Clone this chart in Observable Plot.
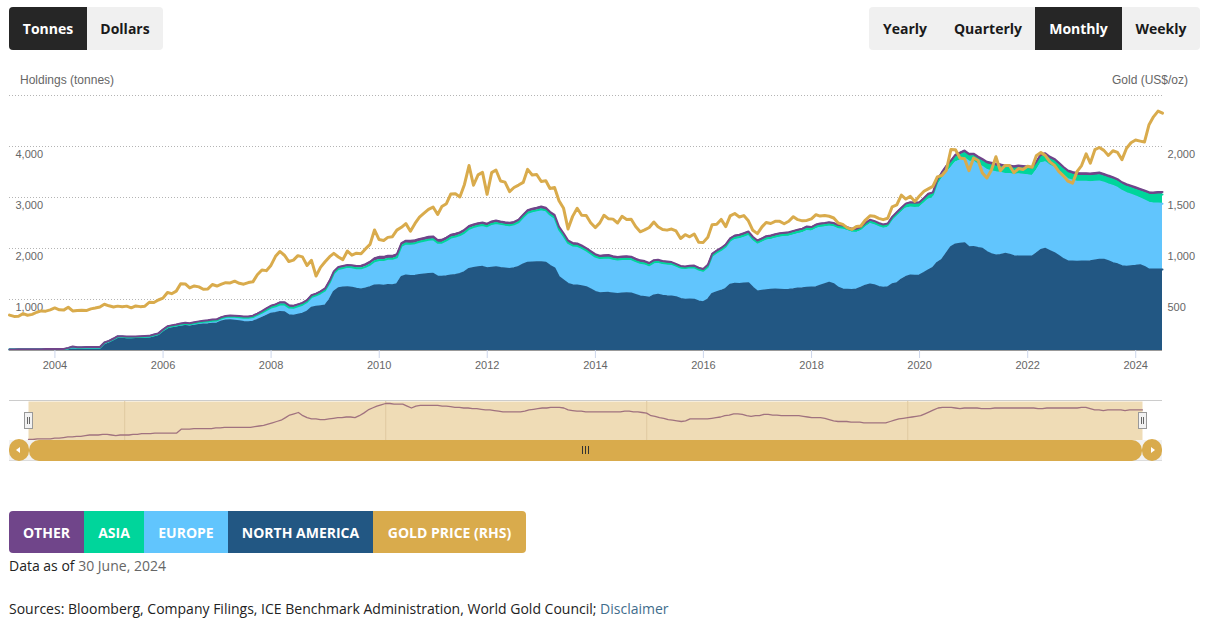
<!DOCTYPE html>
<html>
<head>
<meta charset="utf-8">
<script src="https://cdn.jsdelivr.net/npm/d3@7"></script>
<script src="https://cdn.jsdelivr.net/npm/@observablehq/plot@0.6"></script>
<style>
  body { margin: 0; background: #fff; }
  #page { position: relative; width: 1209px; height: 622px; overflow: hidden; font-family: "Open Sans", sans-serif; }
  .group { position: absolute; top: 7px; height: 43px; display: flex; border-radius: 4px; overflow: hidden; background: #f0f0f0; }
  .group div { display: flex; align-items: center; justify-content: center; font-weight: 700; font-size: 14px; color: #1a1a1a; }
  .group div.on { background: #262626; color: #fff; }
  .axis-title { position: absolute; top: 72px; font-family: "Liberation Sans", Arial, sans-serif; font-size: 12px; color: #666; line-height: 16px; }
  #chart, #nav { position: absolute; left: 0; }
  #chart { top: 90px; }
  #nav { top: 395px; }
  .nav-top { position: absolute; left: 9px; width: 1153px; top: 400px; height: 1px; background: #cccccc; }
  .track { position: absolute; left: 9px; width: 1153px; top: 440px; height: 20px; background: #f2f2f2; border-bottom: 1px solid #dcdcdc; }
  .bar { position: absolute; left: 29px; width: 1113px; top: 440px; height: 21px; background: #d9ab4c; border-radius: 10px; }
  .btn { position: absolute; top: 439px; width: 20px; height: 22px; background: #d9ab4c; border-radius: 10px; }
  .btn::after { content: ""; position: absolute; top: 8px; border-top: 3px solid transparent; border-bottom: 3px solid transparent; }
  .btn.l::after { left: 7px; border-right: 4px solid #fff; }
  .btn.r::after { left: 9px; border-left: 4px solid #fff; }
  .grip { position: absolute; left: 582px; top: 446px; width: 7px; height: 8px; border-left: 1px solid #333; border-right: 1px solid #333; box-sizing: border-box; }
  .grip::after { content: ""; position: absolute; left: 2px; top: 0; width: 1px; height: 8px; background: #333; }
  .handle { position: absolute; top: 412px; width: 7px; height: 15px; background: #f2f2f2; border: 1px solid #999; }
  .handle::after { content: ""; position: absolute; left: 2px; top: 4px; width: 1px; height: 7px; border-left: 1px solid #666; border-right: 1px solid #666; box-sizing: content-box; width: 1px; }
  .legend { position: absolute; top: 511px; left: 9px; height: 42px; display: flex; border-radius: 4px; overflow: hidden; }
  .legend div { display: flex; align-items: center; justify-content: center; color: #fff; font-weight: 700; font-size: 14px; }
  .note { position: absolute; left: 9px; font-size: 14px; line-height: 20px; color: #222; }
  .note span { color: #666; }
  .note a { color: #3f6d8c; text-decoration: none; }
</style>
</head>
<body>
<div id="page">
  <div class="group" style="left:9px;">
    <div class="on" style="width:78px;">Tonnes</div>
    <div style="width:76px;">Dollars</div>
  </div>
  <div class="group" style="left:869px;">
    <div style="width:72px;">Yearly</div>
    <div style="width:94px;">Quarterly</div>
    <div class="on" style="width:87px;">Monthly</div>
    <div style="width:78px;">Weekly</div>
  </div>
  <div class="axis-title" style="left:20px;">Holdings (tonnes)</div>
  <div class="axis-title" style="right:21px;">Gold (US$/oz)</div>
  <div id="chart"></div>
  <div class="nav-top"></div>
  <div id="nav"></div>
  <div class="handle" style="left:24px;"></div>
  <div class="handle" style="left:1138px;"></div>
  <div class="track"></div>
  <div class="bar"></div>
  <div class="btn l" style="left:9px;"></div>
  <div class="btn r" style="left:1142px;"></div>
  <div class="grip"></div>
  <div class="legend" id="legend"></div>
  <div class="note" style="top:556px;">Data as of <span>30 June, 2024</span></div>
  <div class="note" style="top:599px;">Sources: Bloomberg, Company Filings, ICE Benchmark Administration, World Gold Council; <a>Disclaimer</a></div>
</div>
<script>
// Monthly series, month-end values from February 2003 to June 2024 (one row per calendar year).
const firstYear = 2003;
const firstMonthIndex = 1; // February

// Gold ETF holdings by region, tonnes
const northAmerica = [
  18,18,19,19,19,20,20,20,20,21,21,
  21,21,22,22,22,22,23,23,23,24,110,140,
  200,245,245,240,238,240,242,245,248,270,290,360,
  425,440,455,470,480,470,485,500,510,515,525,530,
  570,590,595,585,575,560,555,565,600,640,680,720,
  735,755,750,690,680,700,720,760,840,860,870,882,
  1000,1150,1222,1235,1242,1230,1210,1196,1215,1240,1275,1280,
  1270,1285,1280,1300,1440,1471,1460,1465,1480,1490,1500,1503,
  1450,1445,1455,1470,1480,1500,1536,1600,1620,1634,1640,1615,
  1625,1634,1620,1610,1600,1615,1640,1686,1720,1725,1730,1732,
  1720,1660,1610,1438,1370,1307,1280,1275,1260,1242,1200,1150,
  1124,1128,1130,1120,1110,1120,1124,1118,1090,1060,1050,1033,
  1080,1092,1075,1065,1058,1046,1010,995,998,994,962,948,
  1000,1111,1144,1170,1210,1290,1307,1305,1315,1320,1230,1157,
  1170,1180,1189,1195,1190,1185,1189,1200,1215,1220,1229,1235,
  1242,1270,1300,1327,1300,1230,1196,1190,1185,1196,1230,1270,
  1294,1280,1245,1229,1240,1300,1320,1390,1440,1471,1465,1471,
  1520,1569,1620,1720,1778,1900,2026,2080,2095,2105,2026,2030,
  2010,1994,1930,1890,1863,1875,1895,1880,1850,1843,1845,1843,
  1843,1900,1970,1994,1950,1909,1850,1790,1745,1745,1740,1745,
  1745,1750,1765,1778,1778,1750,1712,1690,1654,1640,1650,1660,
  1673,1640,1588,1590,1588,1588
];
const europe = [
  0,0,0,0,0,0,0,0,0,0,0,
  0,0,20,45,33,33,34,34,35,36,36,38,
  24,24,23,22,23,23,24,25,25,28,32,38,
  30,33,36,40,45,45,48,50,52,55,58,60,
  62,65,70,74,78,82,86,90,95,100,110,120,
  130,145,152,150,155,165,175,190,205,218,250,295,
  330,360,375,380,395,398,400,410,420,440,470,490,
  500,505,510,520,600,620,625,630,640,650,660,665,
  650,656,690,730,740,748,760,770,780,792,798,800,
  834,844,838,833,832,831,850,900,950,973,986,1005,
  994,973,964,906,846,772,750,747,722,691,673,663,
  659,662,665,649,645,645,645,642,630,630,625,606,
  616,613,609,609,608,585,583,589,599,602,592,582,
  611,713,742,765,793,830,866,881,900,929,919,921,
  949,978,982,1000,1026,1041,1047,1061,1070,1085,1116,1100,
  1143,1136,1115,1104,1117,1149,1177,1153,1127,1111,1111,1149,
  1186,1178,1173,1159,1166,1234,1303,1316,1342,1335,1331,1331,
  1361,1390,1364,1506,1588,1582,1554,1610,1632,1662,1677,1676,
  1633,1605,1609,1627,1633,1610,1565,1581,1595,1613,1603,1594,
  1578,1625,1703,1698,1674,1675,1658,1639,1614,1586,1571,1563,
  1562,1549,1543,1538,1511,1507,1516,1496,1473,1444,1403,1361,
  1311,1305,1311,1294,1295,1290
];
const asia = [
  0,0,0,0,0,0,0,0,0,0,0,
  0,0,0,0,0,0,0,0,0,0,0,0,
  0,0,0,0,0,0,0,0,0,0,0,0,
  0,0,0,0,0,0,0,0,0,0,0,0,
  0,0,0,1,1,1,1,1,2,2,2,2,
  2,2,2,3,3,2,3,3,3,3,3,3,
  3,3,3,4,3,4,4,5,5,5,6,6,
  6,7,7,8,9,9,10,10,11,11,12,12,
  12,13,14,14,15,16,17,18,20,20,21,22,
  22,23,25,25,26,27,28,29,31,31,32,33,
  33,33,32,31,31,30,30,30,30,29,29,29,
  29,30,30,31,31,31,32,32,32,31,32,32,
  33,33,32,33,33,33,33,32,33,33,33,32,
  33,35,37,37,38,39,40,40,41,41,40,39,
  40,41,41,42,42,42,43,43,44,44,45,45,
  46,46,47,47,46,46,45,45,46,47,48,50,
  51,52,52,53,54,56,59,62,64,66,67,68,
  70,73,75,80,84,88,92,96,99,101,100,102,
  104,106,108,110,112,113,115,116,117,118,119,120,
  121,122,124,124,123,122,120,118,117,116,116,116,
  117,118,119,120,121,121,122,124,124,126,127,129,
  136,146,156,166,175,182
];
const other = [
  4,4,5,5,5,5,6,6,7,8,8,
  9,9,10,11,11,11,12,12,11,10,11,11,
  11,12,12,13,13,13,14,14,14,14,14,14,
  20,20,20,21,21,21,21,21,22,22,23,23,
  23,23,23,23,23,24,25,26,28,30,32,34,
  38,42,44,46,41,38,36,36,35,35,36,37,
  38,38,39,39,38,41,45,50,53,56,58,60,
  60,59,59,59,56,53,56,57,57,57,57,57,
  56,56,55,54,54,53,53,52,52,51,50,50,
  49,48,47,47,47,47,47,48,50,51,52,53,
  53,54,54,54,53,50,49,48,48,47,47,47,
  47,47,47,47,47,47,48,48,47,47,46,45,
  41,40,38,37,35,34,33,32,33,36,36,36,
  36,36,37,38,39,41,42,44,44,43,41,40,
  41,41,43,43,42,42,41,41,41,41,41,40,
  39,38,38,38,37,35,33,32,32,32,31,31,
  31,30,30,30,30,30,30,32,34,36,37,38,
  39,40,41,44,47,50,53,54,54,54,53,52,
  53,53,53,53,52,52,52,53,53,53,53,53,
  53,53,53,53,53,52,52,53,53,53,53,53,
  53,53,53,54,54,52,50,50,49,50,50,50,
  50,49,50,50,50,50
];

// Gold price, US$/oz
const goldPrice = [
  347,334,336,361,346,354,375,388,386,398,417,
  399,396,424,388,393,395,391,408,416,426,453,438,
  427,435,428,435,418,437,430,434,473,470,495,513,
  569,557,582,654,653,614,633,624,600,604,647,632,
  650,665,662,680,659,650,666,673,743,789,783,834,
  923,971,934,872,886,930,918,833,884,730,815,870,
  920,952,917,891,975,935,954,949,996,1040,1182,1088,
  1079,1109,1116,1180,1208,1244,1170,1246,1307,1346,1384,1406,
  1333,1411,1439,1535,1536,1505,1628,1813,1620,1722,1746,1531,
  1744,1770,1662,1651,1558,1598,1622,1648,1776,1720,1726,1657,
  1664,1588,1598,1469,1394,1192,1315,1394,1326,1324,1253,1205,
  1251,1326,1291,1288,1250,1315,1285,1286,1216,1164,1182,1206,
  1260,1214,1187,1180,1191,1172,1098,1135,1115,1142,1062,1060,
  1111,1234,1237,1285,1215,1320,1343,1309,1323,1272,1178,1146,
  1212,1255,1245,1266,1266,1243,1267,1312,1283,1271,1275,1291,
  1331,1318,1324,1316,1299,1250,1237,1202,1187,1215,1221,1279,
  1321,1317,1295,1283,1296,1409,1427,1523,1485,1511,1461,1515,
  1561,1585,1609,1702,1716,1768,1971,1968,1887,1880,1763,1887,
  1863,1743,1691,1768,1900,1763,1814,1814,1743,1784,1774,1806,
  1796,1910,1942,1911,1849,1817,1754,1712,1660,1640,1754,1813,
  1928,1836,1969,1990,1962,1912,1958,1942,1871,1983,2037,2063,
  2053,2044,2214,2291,2347,2327
];

const regions = ["North America", "Europe", "Asia", "Other"];
const regionColors = ["#225783", "#61c5fd", "#00d59b", "#70458a"];
const goldColor = "#d9ab4c";
const legendItems = [["OTHER", "#70458a", 75], ["ASIA", "#00d59b", 60], ["EUROPE", "#61c5fd", 84], ["NORTH AMERICA", "#225783", 145], ["GOLD PRICE (RHS)", goldColor, 153]];

// Tick positions
const holdingTicks = [1000, 2000, 3000, 4000];
const gridTicks = [1000, 2000, 3000, 4000, 5000];
const yearTicks = [2004, 2006, 2008, 2010, 2012, 2014, 2016, 2018, 2020, 2022, 2024];
const navigatorYears = [2005, 2010, 2015, 2020];

const dates = northAmerica.map((_, i) => new Date(Date.UTC(firstYear, firstMonthIndex + i + 1, 0)));
const seriesByRegion = {"North America": northAmerica, "Europe": europe, "Asia": asia, "Other": other};
const holdings = regions.flatMap(region => seriesByRegion[region].map((value, i) => ({date: dates[i], region, value})));
const gold = goldPrice.map((price, i) => ({date: dates[i], price}));
const xDomain = [dates[0], dates[dates.length - 1]];
const yearDate = y => new Date(Date.UTC(y, 0, 1));
const thousands = d3.format(",");

// Gold shares the holdings scale: 2,500 US$/oz sits on the 5,000 t line.
const goldToTonnes = 2;

const chart = Plot.plot({
  width: 1209,
  height: 290,
  marginTop: 5,
  marginBottom: 30,
  marginLeft: 9,
  marginRight: 47,
  style: {fontFamily: "'Liberation Sans', Arial, sans-serif", fontSize: "11px", color: "#666", background: "transparent"},
  x: {type: "utc", domain: xDomain},
  y: {domain: [0, 5000]},
  color: {domain: regions, range: regionColors},
  marks: [
    Plot.gridY(gridTicks, {stroke: "#b4b4b4", strokeOpacity: 1, strokeDasharray: "1,2"}),
    Plot.areaY(holdings, {x: "date", y: "value", z: "region", fill: "region", order: regions}),
    Plot.lineY(holdings, Plot.stackY2({x: "date", y: "value", z: "region", stroke: "region", order: regions, strokeWidth: 2})),
    Plot.ruleY([0], {stroke: "#999"}),
    Plot.axisX({ticks: yearTicks.map(yearDate), tickFormat: "%Y", tickSize: 8, tickPadding: 3, stroke: "#ccd6eb", fill: "#666", label: null}),
    Plot.axisY({anchor: "left", ticks: holdingTicks, tickFormat: thousands, tickSize: 0, tickPadding: 0, dx: 6, dy: 8, textAnchor: "start", fill: "#666", label: null}),
    Plot.axisY({anchor: "right", ticks: holdingTicks, tickFormat: d => thousands(d / goldToTonnes), tickSize: 0, tickPadding: 5, dy: 8, textAnchor: "start", fill: "#666", label: null}),
    Plot.lineY(gold, {x: "date", y: d => d.price * goldToTonnes, stroke: goldColor, strokeWidth: 3, strokeLinejoin: "round", strokeLinecap: "round"})
  ]
});
document.getElementById("chart").append(chart);

// Range navigator: the first series drawn small across the full period
const otherRows = other.map((value, i) => ({date: dates[i], value}));
const nav = Plot.plot({
  width: 1209,
  height: 70,
  marginTop: 6,
  marginBottom: 25,
  marginLeft: 28,
  marginRight: 67,
  style: {background: "transparent"},
  x: {type: "utc", domain: xDomain, axis: null},
  y: {domain: [d3.min(other), d3.max(other)], range: [44, 8], axis: null},
  marks: [
    Plot.frame({fill: "#efdcb6", stroke: null}),
    Plot.ruleX(navigatorYears.map(yearDate), {stroke: "#dfc9a0"}),
    Plot.lineY(otherRows, {x: "date", y: "value", stroke: "#a0727f", strokeWidth: 1.3})
  ]
});
document.getElementById("nav").append(nav);

const legend = document.getElementById("legend");
for (const [label, color, width] of legendItems) {
  const item = document.createElement("div");
  item.textContent = label;
  item.style.background = color;
  item.style.width = width + "px";
  legend.append(item);
}
</script>
</body>
</html>
